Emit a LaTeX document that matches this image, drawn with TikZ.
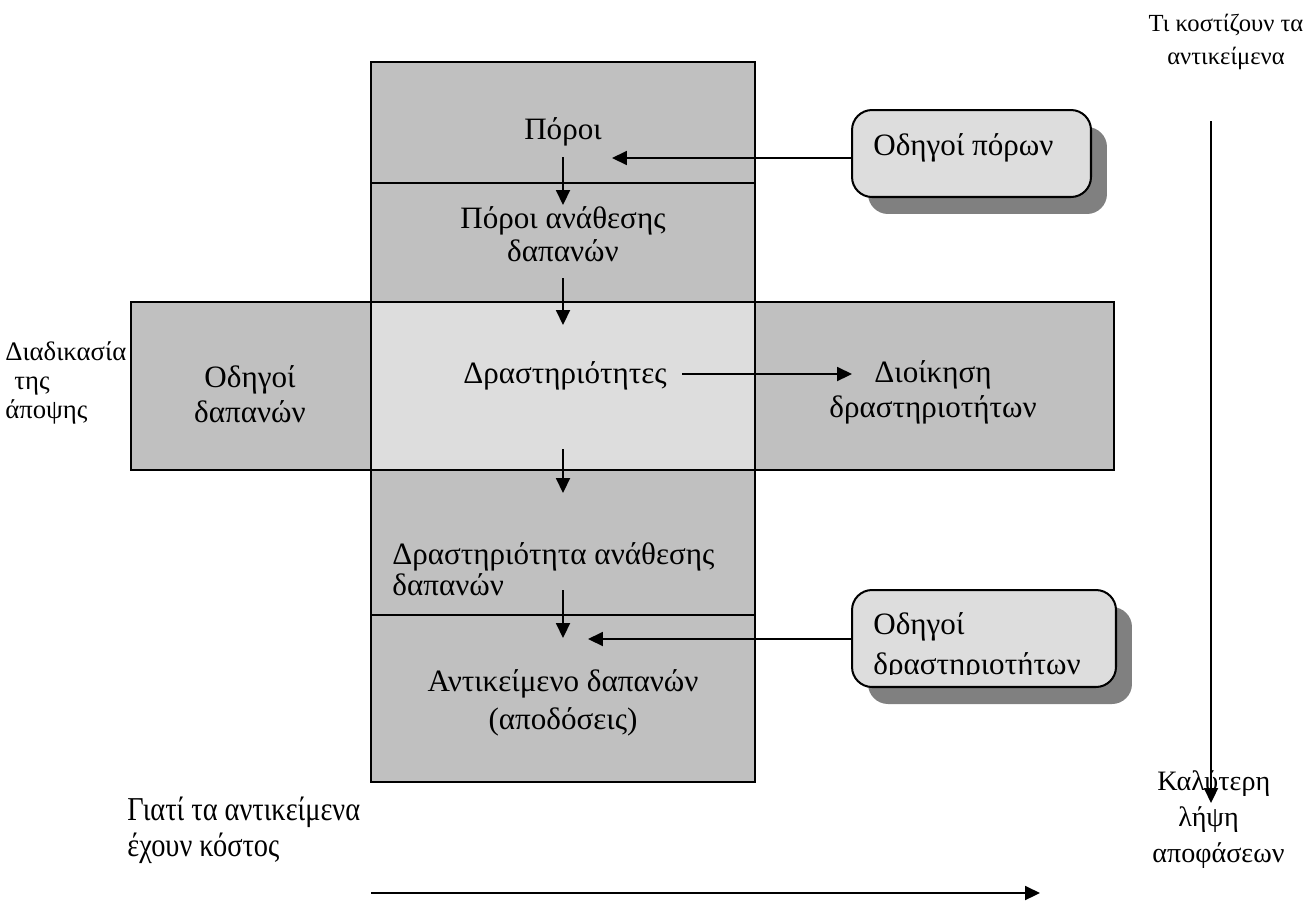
\documentclass[tikz,border=0pt]{standalone}
\usepackage{fontspec}
\setmainfont{Liberation Serif}
\newfontfamily\narrowserif{Liberation Serif}[FakeStretch=0.85]
\usetikzlibrary{arrows.meta,shadows}
\definecolor{cellgray}{HTML}{C0C0C0}
\definecolor{lightcell}{HTML}{DDDDDD}
\definecolor{shadowgray}{HTML}{808080}
\tikzset{
  cell/.style={draw, line width=1.15pt, fill=cellgray, inner sep=0pt, outer sep=0pt},
  lightcellbox/.style={cell, fill=lightcell},
  driverbox/.style={draw, line width=1.15pt, fill=lightcell, rounded corners=0.4cm,
    inner sep=0pt, outer sep=0pt,
    drop shadow={shadow xshift=0.32cm, shadow yshift=-0.34cm, fill=shadowgray, opacity=1}},
  flow/.style={line width=0.9pt, -{Triangle[length=8.5pt,width=8pt]}},
  maintext/.style={font=\fontsize{17.7}{19.8}\selectfont, inner sep=0pt, align=center},
  smalltext/.style={font=\fontsize{14}{16.4}\selectfont, inner sep=0pt},
}
\begin{document}
\begin{tikzpicture}[x=0.02cm, y=-0.02cm]
\useasboundingbox (0,0) rectangle (1310,910);

% central column and horizontal band
\node[cell, minimum width=7.68cm, minimum height=2.42cm] (poroi) at (563,122.5) {};
\node[cell, minimum width=7.68cm, minimum height=2.38cm] (anathesi) at (563,242.5) {};
\node[cell, minimum width=4.8cm, minimum height=3.36cm] (odigoidap) at (251,386) {};
\node[cell, minimum width=7.18cm, minimum height=3.36cm] (dioikisi) at (934.5,386) {};
\node[lightcellbox, minimum width=7.68cm, minimum height=3.36cm] (drast) at (563,386) {};
\node[cell, minimum width=7.68cm, minimum height=2.9cm] (dranath) at (563,542.5) {};
\node[cell, minimum width=7.68cm, minimum height=3.34cm] (antik) at (563,698.5) {};

% cell labels
\node[maintext] (tporoi) at (563,132) {Πόροι};
\node[maintext, font=\fontsize{17.7}{18.8}\selectfont] (tanath) at (563,234) {Πόροι ανάθεσης\\δαπανών};
\node[maintext] (todap) at (250,394) {Οδηγοί\\δαπανών};
\node[maintext] (tdrast) at (565,376) {Δραστηριότητες};
\node[maintext] (tdioik) at (933,392) {Διοίκηση\\δραστηριοτήτων};
\node[maintext, align=left, anchor=west, font=\fontsize{17.7}{17.5}\selectfont] (tdranath) at (392,569) {Δραστηριότητα ανάθεσης\\δαπανών};
\node[maintext, font=\fontsize{17.7}{22}\selectfont] (tantik) at (563,703) {Αντικείμενο δαπανών\\(αποδόσεις)};

% cost driver boxes with shadows
\node[driverbox, minimum width=4.78cm, minimum height=1.74cm] (opor) at (971.5,153.5) {};
\node[maintext, anchor=west] (topor) at (873,148) {Οδηγοί πόρων};
\node[driverbox, minimum width=5.28cm, minimum height=1.94cm] (odr) at (984,638.5) {};
\begin{scope}
  \clip (odr.north west) rectangle ([yshift=0.26cm]odr.south east);
  \node[maintext, align=left, anchor=west, font=\fontsize{17.7}{22.5}\selectfont] (todr) at (873,647) {Οδηγοί\\δραστηριοτήτων};
\end{scope}

% side captions
\node[smalltext, align=left, anchor=north west, font=\fontsize{15.2}{16.6}\selectfont] (tview) at (5,341) {Διαδικασία\\\hspace*{0.18cm}της\\άποψης};
\node[smalltext, align=center, anchor=north, font=\fontsize{14}{18.5}\selectfont] (tcost) at (1226,14) {Τι κοστίζουν τα\\αντικείμενα};
\node[smalltext, align=left, anchor=north west, font=\fontsize{16}{20.5}\selectfont] (tbetter) at (1152,770) {\hspace*{0.1cm}Καλύτερη\\\hspace*{0.52cm}λήψη\\αποφάσεων};
\node[maintext, align=left, anchor=north west, font=\narrowserif\fontsize{19}{20.5}\selectfont] (twhy) at (127,797) {Γιατί τα αντικείμενα\\έχουν κόστος};

% flow arrows
\coordinate (a1s) at (563,157);
\coordinate (a1e) at (563,205);
\coordinate (a2s) at (563,278);
\coordinate (a2e) at (563,325);
\coordinate (a3s) at (682,374);
\coordinate (a3e) at (852,374);
\coordinate (a4s) at (563,449);
\coordinate (a4e) at (563,493);
\coordinate (a5s) at (563,590);
\coordinate (a5e) at (563,638);
\coordinate (b1e) at (612,158);
\coordinate (b2e) at (588,639);
\coordinate (rtop) at (1211,121);
\coordinate (rbot) at (1211,803);
\coordinate (bleft) at (371,893);
\coordinate (bright) at (1040,893);

\draw[flow] (a1s) -- (a1e);
\draw[flow] (a2s) -- (a2e);
\draw[flow] (a3s) -- (a3e);
\draw[flow] (a4s) -- (a4e);
\draw[flow] (a5s) -- (a5e);
\draw[flow] (opor.west |- b1e) -- (b1e);
\draw[flow] (odr.west |- b2e) -- (b2e);
\draw[flow] (rtop) -- (rbot);
\draw[flow] (bleft) -- (bright);
\end{tikzpicture}
\end{document}
